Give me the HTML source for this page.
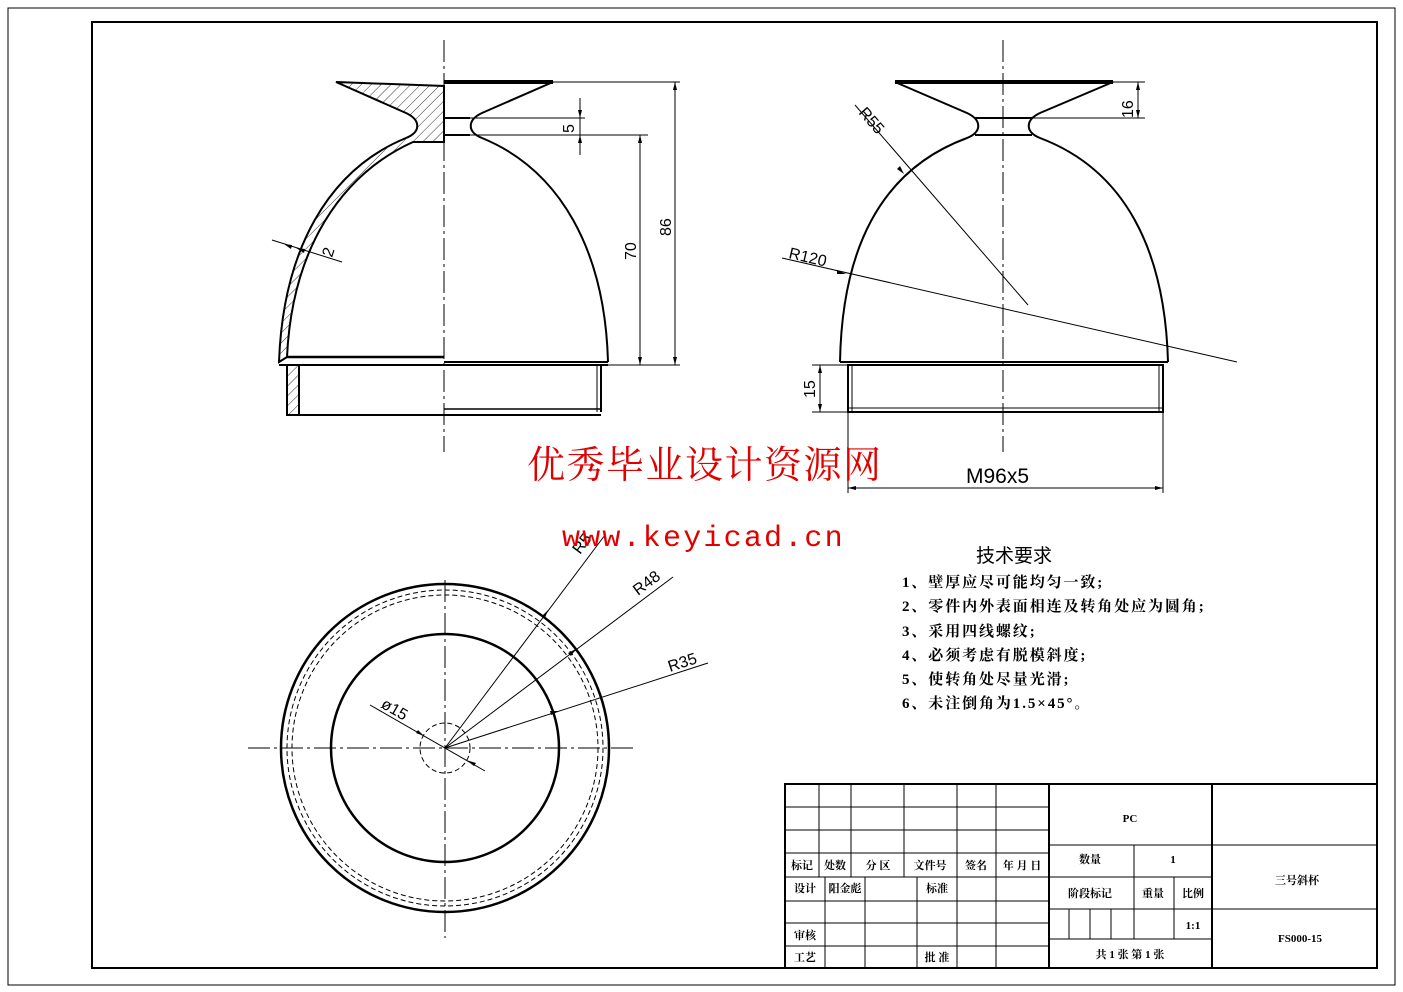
<!DOCTYPE html>
<html><head><meta charset="utf-8"><style>
body{margin:0;background:#fff}
svg{display:block}
.s{font-family:"Liberation Sans","Noto Sans CJK SC",sans-serif}
.c{font-family:"Liberation Serif","Noto Serif CJK SC","Noto Sans CJK SC",serif;font-weight:bold}
</style></head><body>
<svg width="1403" height="992" viewBox="0 0 1403 992" xmlns="http://www.w3.org/2000/svg">
<defs>
<pattern id="h" width="7" height="7" patternUnits="userSpaceOnUse" patternTransform="rotate(45)"><line x1="0" y1="0" x2="0" y2="7" stroke="#000" stroke-width="0.8"/></pattern>
</defs>
<rect x="8" y="8" width="1387" height="977" fill="none" stroke="#000" stroke-width="1"/>
<rect x="92" y="22" width="1285" height="946" fill="none" stroke="#000" stroke-width="2"/>

<!-- FRONT VIEW -->
<g fill="none" stroke="#000">
<line x1="444" y1="40" x2="444" y2="452" stroke-width="1" stroke-dasharray="22,4,3,4"/>
<path d="M336,82 L444,86 L444,142 L413,142 C340,175 292,250 287,357 L279,362 C283,250 328,170 406,138 C421,132 421,120 406,113 Z" fill="url(#h)" stroke-width="2"/>
<line x1="287" y1="357" x2="444" y2="357" stroke-width="2.5"/>
<rect x="287" y="365" width="12" height="50" fill="url(#h)" stroke-width="2"/>
<line x1="279" y1="365" x2="444" y2="365" stroke-width="2"/>
<line x1="287" y1="415" x2="601" y2="415" stroke-width="2"/>
<line x1="444" y1="82" x2="553" y2="82" stroke-width="4"/>
<path d="M553,82 L482,113 C467,120 467,132 482,138 C560,170 605,250 608,362" stroke-width="2"/>
<line x1="444" y1="118" x2="470" y2="118" stroke-width="2"/>
<line x1="444" y1="135" x2="470" y2="135" stroke-width="2"/>
<line x1="444" y1="362" x2="608" y2="362" stroke-width="2"/>
<line x1="444" y1="365" x2="608" y2="365" stroke-width="2"/>
<line x1="601" y1="365" x2="601" y2="412" stroke-width="2"/>
<line x1="597" y1="365" x2="597" y2="412" stroke-width="1"/>
<line x1="444" y1="409" x2="601" y2="409" stroke-width="1.5"/>
<g stroke-width="1">
<line x1="470" y1="118" x2="585" y2="118"/><line x1="470" y1="135" x2="648" y2="135"/>
<line x1="580" y1="98" x2="580" y2="155"/>
<line x1="553" y1="82" x2="680" y2="82"/><line x1="608" y1="365" x2="680" y2="365"/>
<line x1="640" y1="135" x2="640" y2="365"/><line x1="675" y1="82" x2="675" y2="365"/>
<line x1="272" y1="240" x2="342" y2="262"/>
</g>
</g>
<g fill="#000">
<path d="M580,118 l-2,-8 h4z M580,135 l-2,8 h4z M640,135 l-2,8 h4z M640,365 l-2,-8 h4z M675,82 l-2,8 h4z M675,365 l-2,-8 h4z M284,244 l8,1 l-1,4z M296,248 l8,5 l1,-4z"/>
</g>
<g class="s" font-size="16" fill="#000">
<text transform="translate(574,133) rotate(-90)">5</text>
<text transform="translate(636,260) rotate(-90)">70</text>
<text transform="translate(671,236) rotate(-90)">86</text>
<text transform="translate(332,258) rotate(-72)">2</text>
</g>

<!-- SIDE VIEW -->
<g fill="none" stroke="#000">
<line x1="1003" y1="40" x2="1003" y2="452" stroke-width="1" stroke-dasharray="22,4,3,4"/>
<line x1="895" y1="82" x2="1113" y2="82" stroke-width="4"/>
<path d="M895,82 L967,113 C982,120 982,132 967,138 C880,170 842,250 840,362" stroke-width="2"/>
<path d="M1113,82 L1040,113 C1025,120 1025,132 1040,138 C1125,170 1165,250 1168,362" stroke-width="2"/>
<line x1="975" y1="118" x2="1032" y2="118" stroke-width="2"/>
<line x1="975" y1="135" x2="1032" y2="135" stroke-width="2"/>
<line x1="840" y1="362" x2="1168" y2="362" stroke-width="2"/>
<path d="M848,365 H1163 V412 H848 Z" stroke-width="2"/>
<line x1="852" y1="365" x2="852" y2="412" stroke-width="1"/>
<line x1="1159" y1="365" x2="1159" y2="412" stroke-width="1"/>
<line x1="848" y1="408" x2="1163" y2="408" stroke-width="1"/>
<g stroke-width="1">
<line x1="1113" y1="82" x2="1145" y2="82"/><line x1="1032" y1="118" x2="1145" y2="118"/>
<line x1="1138" y1="82" x2="1138" y2="118"/>
<line x1="855" y1="105" x2="1028" y2="305"/>
<line x1="782" y1="258" x2="1237" y2="362"/>
<line x1="812" y1="365" x2="848" y2="365"/><line x1="812" y1="412" x2="848" y2="412"/>
<line x1="820" y1="365" x2="820" y2="412"/>
<line x1="848" y1="412" x2="848" y2="493"/><line x1="1163" y1="412" x2="1163" y2="493"/>
<line x1="848" y1="488" x2="1163" y2="488"/>
</g>
</g>
<g fill="#000"><path d="M1138,82 l-2,8 h4z M1138,118 l-2,-8 h4z M820,365 l-2,8 h4z M820,412 l-2,-8 h4z M848,488 l8,-2 v4z M1163,488 l-8,-2 v4z M904,174 l-7,-5 l3,-3z M846,274 l-9,-4 l0,4z"/></g>
<g class="s" font-size="16" fill="#000">
<text transform="translate(1133,118) rotate(-90)">16</text>
<text transform="translate(858,113) rotate(49)">R55</text>
<text transform="translate(788,258) rotate(13)">R120</text>
<text transform="translate(815,398) rotate(-90)">15</text>
<text x="966" y="483" font-size="21">M96x5</text>
</g>

<!-- TOP VIEW -->
<g fill="none" stroke="#000">
<line x1="248" y1="748" x2="635" y2="748" stroke-width="1" stroke-dasharray="22,4,3,4"/>
<line x1="445" y1="580" x2="445" y2="938" stroke-width="1" stroke-dasharray="22,4,3,4"/>
<circle cx="445" cy="748" r="164" stroke-width="2.5"/>
<circle cx="445" cy="748" r="158" stroke-width="1" stroke-dasharray="5,3"/>
<circle cx="445" cy="748" r="153" stroke-width="1" stroke-dasharray="5,3"/>
<circle cx="445" cy="748" r="114" stroke-width="2.5"/>
<circle cx="445" cy="748" r="25" stroke-width="1" stroke-dasharray="5,3"/>
<g stroke-width="1">
<line x1="445" y1="748" x2="605" y2="535"/>
<line x1="445" y1="748" x2="673" y2="577"/>
<line x1="445" y1="748" x2="708" y2="663"/>
<line x1="370" y1="705" x2="485" y2="771"/>
</g>
</g>
<g fill="#000"><path d="M548,610 l-3,8 l-3,-2z M576,649 l-5,7 l-3,-3z M559,711 l-8,4 l-1,-4z M424,736 l-8,-3 l2,-3z M466,760 l8,6 l2,-3z"/></g>
<g class="s" font-size="16" fill="#000">
<text transform="translate(580,555) rotate(-53)">R5</text>
<text transform="translate(638,596) rotate(-37)">R48</text>
<text transform="translate(670,672) rotate(-18)">R35</text>
<text transform="translate(380,707) rotate(30)">ø15</text>
</g>

<!-- watermark -->
<text x="527" y="478" font-size="38" letter-spacing="1.5" fill="#e00000" style="font-family:'Noto Serif CJK SC','Noto Sans CJK SC',serif">优秀毕业设计资源网</text>
<text x="562" y="546" font-size="30" letter-spacing="2.2" fill="#e00000" style="font-family:'Liberation Mono',monospace">www.keyicad.cn</text>

<!-- tech req -->
<g fill="#000">
<text x="976" y="562" font-size="19" style="font-family:'Noto Sans CJK SC',sans-serif">技术要求</text>
<g class="c" font-size="15" letter-spacing="1.9">
<text x="902" y="587">1、壁厚应尽可能均匀一致;</text>
<text x="902" y="611">2、零件内外表面相连及转角处应为圆角;</text>
<text x="902" y="636">3、采用四线螺纹;</text>
<text x="902" y="660">4、必须考虑有脱模斜度;</text>
<text x="902" y="684">5、使转角处尽量光滑;</text>
<text x="902" y="708">6、未注倒角为1.5×45°。</text>
</g>
</g>

<!-- title block -->
<g stroke="#000" fill="none">
<rect x="785" y="784" width="592" height="184" stroke-width="2"/>
<g stroke-width="1">
<line x1="785" y1="807" x2="1049" y2="807"/><line x1="785" y1="830" x2="1049" y2="830"/>
<line x1="785" y1="853" x2="1049" y2="853"/><line x1="785" y1="877" x2="1049" y2="877"/>
<line x1="785" y1="901" x2="1049" y2="901"/><line x1="785" y1="923" x2="1049" y2="923"/>
<line x1="785" y1="946" x2="1049" y2="946"/>
<line x1="819" y1="784" x2="819" y2="877"/><line x1="851" y1="784" x2="851" y2="877"/>
<line x1="904" y1="784" x2="904" y2="877"/><line x1="957" y1="784" x2="957" y2="968"/>
<line x1="996" y1="784" x2="996" y2="968"/>
<line x1="825" y1="877" x2="825" y2="968"/><line x1="865" y1="877" x2="865" y2="968"/>
<line x1="917" y1="877" x2="917" y2="968"/>
<line x1="1049" y1="845" x2="1212" y2="845"/><line x1="1049" y1="877" x2="1212" y2="877"/>
<line x1="1049" y1="909" x2="1212" y2="909"/><line x1="1049" y1="939" x2="1212" y2="939"/>
<line x1="1212" y1="845" x2="1377" y2="845"/><line x1="1212" y1="909" x2="1377" y2="909"/>
<line x1="1134" y1="845" x2="1134" y2="939"/><line x1="1174" y1="877" x2="1174" y2="939"/>
<line x1="1069" y1="909" x2="1069" y2="939"/><line x1="1090" y1="909" x2="1090" y2="939"/><line x1="1111" y1="909" x2="1111" y2="939"/>
</g>
<line x1="1049" y1="784" x2="1049" y2="968" stroke-width="2"/>
<line x1="1212" y1="784" x2="1212" y2="968" stroke-width="2"/>
</g>
<g class="c" font-size="11" fill="#000" text-anchor="middle">
<text x="802" y="869">标记</text><text x="835" y="869">处数</text><text x="878" y="869">分 区</text>
<text x="930" y="869">文件号</text><text x="976" y="869">签名</text><text x="1022" y="869">年 月 日</text>
<text x="805" y="892">设计</text><text x="845" y="892">阳金彪</text><text x="937" y="892">标准</text>
<text x="805" y="939">审核</text><text x="805" y="961">工艺</text><text x="937" y="961">批 准</text>
<text x="1130" y="822">PC</text><text x="1090" y="863">数量</text><text x="1173" y="863">1</text>
<text x="1090" y="897">阶段标记</text><text x="1153" y="897">重量</text><text x="1193" y="897">比例</text>
<text x="1193" y="929">1:1</text><text x="1130" y="958">共 1 张  第 1 张</text>
<text x="1297" y="884">三号斜杯</text><text x="1300" y="942">FS000-15</text>
</g>
</svg>
</body></html>
